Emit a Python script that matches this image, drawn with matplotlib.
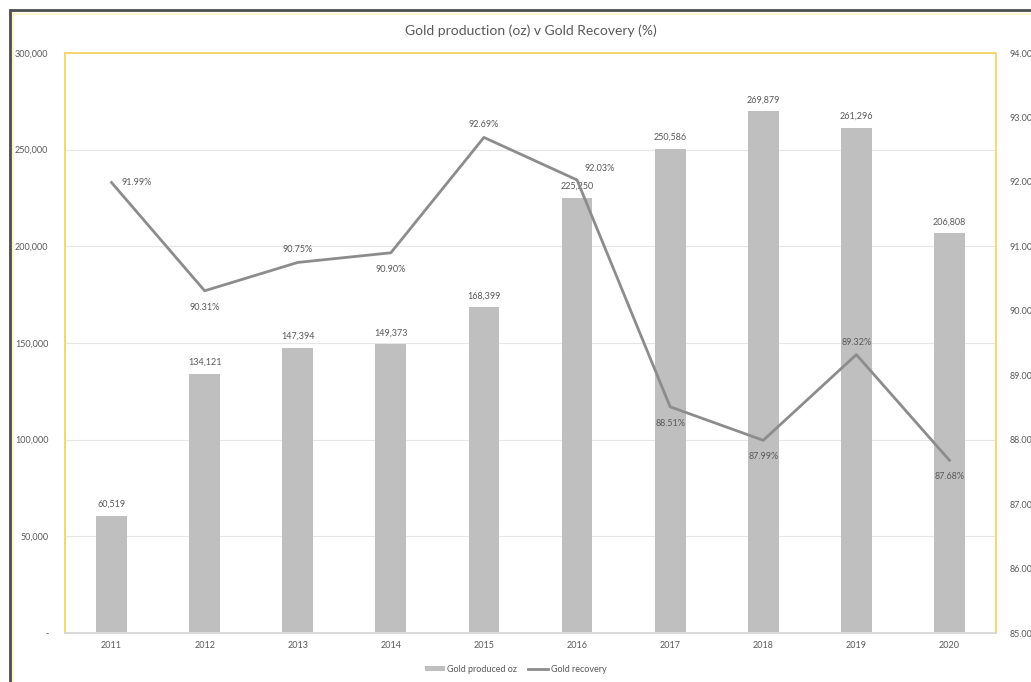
import numpy as np
import matplotlib
matplotlib.use('Agg')
import matplotlib.pyplot as plt
from matplotlib.patches import Rectangle

# ── data ─────────────────────────────────────────────────────────────────────
years = ['2011', '2012', '2013', '2014', '2015', '2016', '2017', '2018', '2019', '2020']
gold_oz = [60519, 134121, 147394, 149373, 168399, 225250, 250586, 269879, 261296, 206808]
recovery = [91.99, 90.31, 90.75, 90.90, 92.69, 92.03, 88.51, 87.99, 89.32, 87.68]

# label offsets for the recovery points (points, dx/dy)
rec_offsets = [(18, 0), (0, -12), (0, 9), (0, -12), (0, 9),
               (16, 8), (0, -12), (0, -12), (0, 9), (0, -12)]

plt.rcParams['font.family'] = ['Lato', 'DejaVu Sans']
txt = '#595959'
bar_c = '#bfbfbf'
line_c = '#8c8c8c'
gold = '#f5d76e'

fig = plt.figure(figsize=(10.31, 6.82), dpi=100)
W, H = 1031, 682
ax = fig.add_axes([65 / W, 1 - 633 / H, (996 - 65) / W, (633 - 53) / H])
ax2 = ax.twinx()

x = np.arange(len(years))
ax.bar(x, gold_oz, width=0.33, color=bar_c, zorder=2, label='Gold produced oz')
for xi, v in zip(x, gold_oz):
    ax.annotate(f'{v:,}', (xi, v), xytext=(0, 5), textcoords='offset points',
                ha='center', va='bottom', fontsize=6.5, color=txt)

ax.set_xlim(-0.5, len(years) - 0.5)
ax.set_ylim(0, 300000)
ax.set_yticks(np.arange(0, 300001, 50000))
ax.set_yticklabels(['-'] + [f'{v:,}' for v in range(50000, 300001, 50000)])
ax.set_xticks(x)
ax.set_xticklabels(years)
ax.grid(axis='y', color='#e6e6e6', lw=0.8, zorder=0)
ax.set_axisbelow(True)

ax2.plot(x, recovery, color=line_c, lw=2, zorder=3, label='Gold recovery')
for xi, v, (dx, dy) in zip(x, recovery, rec_offsets):
    ax2.annotate(f'{v:.2f}%', (xi, v), xytext=(dx, dy), textcoords='offset points',
                 ha='center', va='center', fontsize=6.5, color=txt)
ax2.set_ylim(85, 94)
ax2.set_yticks(np.arange(85, 94.01, 1))
ax2.set_yticklabels([f'{v:.2f}%' for v in np.arange(85, 94.01, 1)])

for a in (ax, ax2):
    a.tick_params(length=0, labelsize=6.5, colors=txt, pad=6)
    for s in a.spines.values():
        s.set_color(gold)
        s.set_linewidth(1.2)
ax.spines['bottom'].set_color('#d9d9d9')
ax2.spines['bottom'].set_color('#d9d9d9')
ax.tick_params(axis='y', pad=12)
ax2.tick_params(axis='y', pad=10)

ax.set_title('Gold production (oz) v Gold Recovery (%)', fontsize=10, color=txt, pad=13)

h1, l1 = ax.get_legend_handles_labels()
h2, l2 = ax2.get_legend_handles_labels()
fig.legend(h1 + h2, l1 + l2, loc='center', bbox_to_anchor=(0.5, 1 - 669 / H), ncol=2,
           frameon=False, fontsize=6.5, labelcolor=txt, handlelength=2.2,
           handleheight=0.5, columnspacing=1.2, handletextpad=0.3)

# outer chart frame
fig.patches.append(Rectangle((10 / W, -0.01), 1.1, 1 - 10 / H + 0.01, transform=fig.transFigure,
                             fill=False, edgecolor='#4d4d4d', lw=2))
fig.patches.append(Rectangle((13 / W, -0.01), 1.1, 1 - 14 / H + 0.01, transform=fig.transFigure,
                             fill=False, edgecolor='#fff3c4', lw=1.2))

fig.savefig('out.png', dpi=100)
